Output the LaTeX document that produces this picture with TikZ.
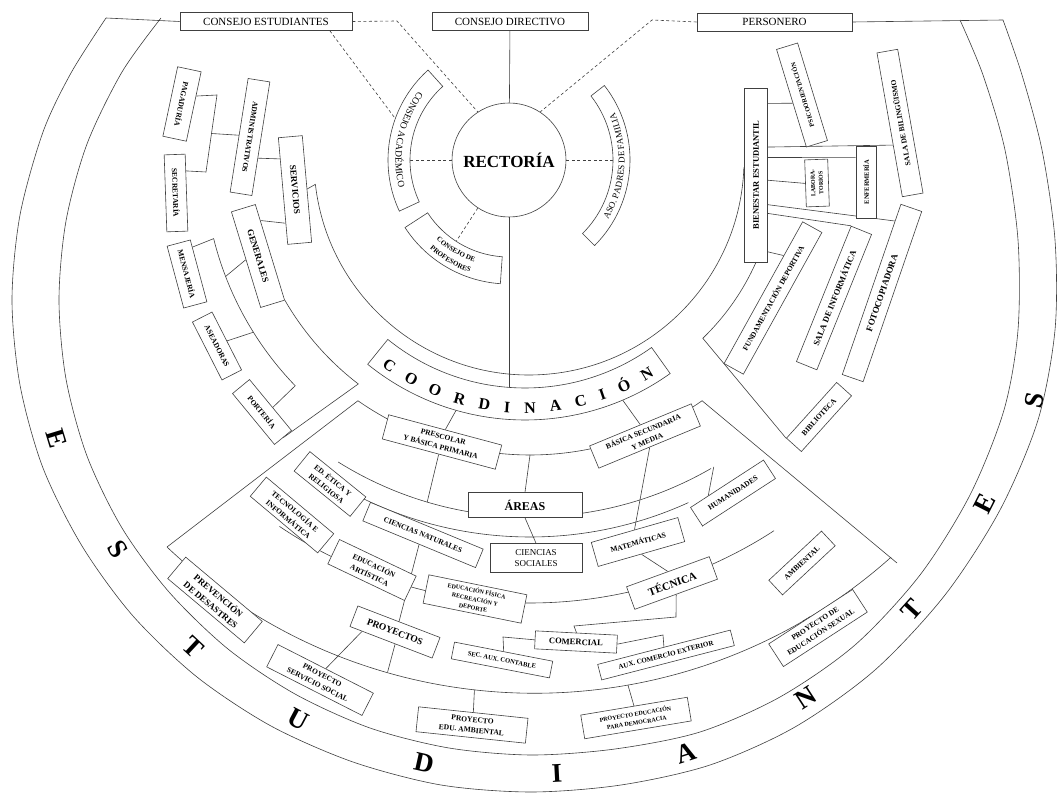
\documentclass[tikz,border=0pt]{standalone}
\usepackage{fontspec}
\setmainfont{Liberation Serif}
\usetikzlibrary{calc,decorations.text}

\pgfdeclarelayer{paper}
\pgfdeclarelayer{lines}
\pgfsetlayers{paper,lines,main}

\tikzset{
  line/.style={draw=black!75, line width=0.6pt},
  dline/.style={line, dash pattern=on 3pt off 2.5pt},
  box/.style={line, fill=white, inner sep=1pt, align=center,
    font=\fontsize{7.5}{10.5}\selectfont\bfseries},
  topbox/.style={line, fill=white, inner sep=1pt, minimum height=18,
    font=\fontsize{11}{11}\selectfont},
  letra/.style={font=\fontsize{27}{27}\selectfont\bfseries},
}

\begin{document}
\begin{tikzpicture}[x=1pt, y=1pt]
\useasboundingbox (0,0) rectangle (1058,-794);
\begin{pgfonlayer}{paper}
  \fill[white] (0,0) rectangle (1058,-794);
\end{pgfonlayer}

% centres
\coordinate (r0) at (509,-160);
\coordinate (o1) at (529,-160);
\coordinate (o2) at (530,-155);
\coordinate (o3) at (535,-158);
\coordinate (c2) at (525,-170);

% estudiantes
\coordinate (bandL) at (106,-18);
\coordinate (bandR) at (1003,-20);
\draw[line] plot[smooth] coordinates {(106,-18) (71,-73) (43,-132) (20,-215) (12,-300)
  (20,-385) (43,-468) (82,-546) (133,-616) (197,-677) (271,-726) (353,-762) (441,-785)
  (531,-792) (621,-785) (710,-765) (795,-727) (875,-670) (945,-595) (1000,-510)
  (1038,-420) (1055,-330) (1055,-240) (1042,-150) (1022,-75) (1003,-20)};
\draw[line] plot[smooth] coordinates {(161,-18) (122,-72) (87,-144) (66,-221) (59,-300)
  (66,-379) (87,-456) (122,-528) (169,-592) (228,-649) (295,-694) (370,-728) (449,-748)
  (531,-755) (615,-749) (700,-732) (780,-697) (855,-645) (920,-575) (970,-495)
  (1004,-410) (1018,-330) (1018,-240) (1005,-150) (983,-75) (960,-20)};
\foreach \l/\x/\y/\r [count=\k] in {E/57/439/287, S/118/549/302, T/193/647/317,
    U/298/719/332, D/424/763/347.5, I/557/773/3, A/686/753/18, N/806/698/33,
    T/912/610/48, E/985/503/63, S/1034/400/78}
  \node[letra, rotate=\r] (l\k) at (\x,-\y) {\l};

% top
\node[topbox, minimum width=172] (cest) at (266,-21.5) {CONSEJO ESTUDIANTES};
\node[topbox, minimum width=156] (cdir) at (510,-21.5) {CONSEJO DIRECTIVO};
\node[topbox, minimum width=155] (pers) at (774.5,-22) {PERSONERO};
\node[circle, line, fill=white, minimum size=114, inner sep=0pt,
  font=\fontsize{17}{17}\selectfont\bfseries] (rect) at (r0) {RECTORÍA};

% arc boxes round rectoria
\draw[line, fill=white] ([shift={(r0)}]132:99) arc[start angle=132, end angle=205, radius=99]
  -- ([shift={(r0)}]205:121) arc[start angle=205, end angle=132, radius=121] -- cycle;
\path[decorate, decoration={text along path, text align=center,
  text={|\fontsize{9.5}{9.5}\selectfont|CONSEJO ACADÉMICO}}]
  ([shift={(r0)}]132:113.5) arc[start angle=132, end angle=205, radius=113.5];
\coordinate (acad) at ([shift={(r0)}]180:99);

\draw[line, fill=white] ([shift={(r0)}]-45:104) arc[start angle=-45, end angle=38, radius=104]
  -- ([shift={(r0)}]38:121) arc[start angle=38, end angle=-45, radius=121] -- cycle;
\path[decorate, decoration={text along path, text align=center,
  text={|\fontsize{9}{9}\selectfont|ASO. PADRES DE FAMILIA}}]
  ([shift={(r0)}]-45:115.5) arc[start angle=-45, end angle=38, radius=115.5];
\coordinate (padres) at ([shift={(r0)}]0:104);

\draw[line, fill=white] ([shift={(r0)}]213:97) arc[start angle=213, end angle=266, radius=97]
  -- ([shift={(r0)}]266:124) arc[start angle=266, end angle=213, radius=124] -- cycle;
\path[decorate, decoration={text along path, text align=center,
  text={|\fontsize{7}{7}\selectfont\bfseries|CONSEJO DE}}]
  ([shift={(r0)}]213:108) arc[start angle=213, end angle=266, radius=108];
\path[decorate, decoration={text along path, text align=center,
  text={|\fontsize{7}{7}\selectfont\bfseries|PROFESORES}}]
  ([shift={(r0)}]213:119) arc[start angle=213, end angle=266, radius=119];
\coordinate (prof) at ([shift={(r0)}]237:97);

% coordinacion
\draw[line, fill=white] ([shift={(c2)}]231:218) arc[start angle=231, end angle=305.5, radius=218]
  -- ([shift={(c2)}]305.5:250) arc[start angle=305.5, end angle=231, radius=250] -- cycle;
\path[decorate, decoration={text along path,
  text align={fit to path, left indent=12pt, right indent=14pt},
  text={|\fontsize{16}{16}\selectfont\bfseries|COORDINACIÓN}}]
  ([shift={(c2)}]231:243) arc[start angle=231, end angle=305.5, radius=243];
\coordinate (coordn) at (509,-389);

% servicios generales
\node[box, minimum width=71, minimum height=24, rotate=258] (pag) at (182,-104) {PAGADURÍA};
\node[box, minimum width=77, minimum height=21, rotate=272] (secr) at (176,-193) {SECRETARÍA};
\node[box, minimum width=115, minimum height=22, rotate=261] (admin) at (250,-137) {ADMINISTRATIVOS};
\node[box, minimum width=107, minimum height=24, rotate=275,
  font=\fontsize{9}{9}\selectfont\bfseries] (serv) at (295,-190) {SERVICIOS};
\node[box, minimum width=100, minimum height=25, rotate=287,
  font=\fontsize{9}{9}\selectfont\bfseries] (gen) at (258,-256) {GENERALES};
\node[box, minimum width=64, minimum height=24, rotate=285] (mens) at (187,-274) {MENSAJERÍA};
\node[box, minimum width=65, minimum height=22, rotate=297] (asea) at (217,-346) {ASEADORAS};
\node[box, minimum width=66, minimum height=22, rotate=309.5] (port) at (262,-412) {PORTERÍA};

% bienestar
\node[box, minimum width=174, minimum height=23, rotate=90,
  font=\fontsize{8.5}{8.5}\selectfont\bfseries] (bien) at (756,-175) {BIENESTAR ESTUDIANTIL};
\node[box, minimum width=102, minimum height=22, rotate=107,
  font=\fontsize{6.5}{7}\selectfont\bfseries] (psico) at (802,-95) {PSICOORIENTACIÓN};
\node[box, minimum width=146, minimum height=21, rotate=100] (bilin) at (900,-123) {SALA DE BILINGÜISMO};
\node[box, minimum width=47, minimum height=23, rotate=92,
  font=\fontsize{6}{8}\selectfont\bfseries] (labo) at (817,-183) {LABORA-\\TORIOS};
\node[box, minimum width=72, minimum height=20, rotate=90,
  font=\fontsize{6.5}{7}\selectfont\bfseries] (enfer) at (866,-182) {ENFERMERÍA};
\node[box, minimum width=162, minimum height=22, rotate=61] (fund) at (773,-298) {FUNDAMENTACIÓN DEPORTIVA};
\node[box, minimum width=146, minimum height=22, rotate=68,
  font=\fontsize{8.5}{8.5}\selectfont\bfseries] (infor) at (834,-298) {SALA DE INFORMÁTICA};
\node[box, minimum width=180, minimum height=22, rotate=71,
  font=\fontsize{9}{9}\selectfont\bfseries] (foto) at (882,-293) {FOTOCOPIADORA};
\node[box, minimum width=75, minimum height=20, rotate=48] (bibl) at (819,-417) {BIBLIOTECA};

% academico
\node[box, minimum width=117, minimum height=25, rotate=-15] (presc) at (442,-442) {PRESCOLAR\\Y BÁSICA PRIMARIA};
\node[box, minimum width=110, minimum height=24, rotate=22.5] (basic) at (645,-436) {BÁSICA SECUNDARIA\\Y MEDIA};
\node[box, minimum width=114, minimum height=25,
  font=\fontsize{12}{12}\selectfont\bfseries] (areas) at (525,-505) {ÁREAS};
\node[box, minimum width=72, minimum height=25, rotate=-39] (etica) at (330,-484) {ED. ÉTICA Y\\RELIGIOSA};
\node[box, minimum width=88, minimum height=25, rotate=-40] (tecno) at (292,-515) {TECNOLOGÍA E\\INFORMÁTICA};
\node[box, minimum width=122, minimum height=20, rotate=-22.5] (cnat) at (423,-535) {CIENCIAS NATURALES};
\node[box, minimum width=92, minimum height=29,
  font=\fontsize{9}{11.5}\selectfont] (csoc) at (536,-558) {CIENCIAS\\SOCIALES};
\node[box, minimum width=90, minimum height=25, rotate=16] (mate) at (638,-542) {MATEMÁTICAS};
\node[box, minimum width=87, minimum height=22, rotate=33] (human) at (733,-493) {HUMANIDADES};
\node[box, minimum width=88, minimum height=24, rotate=20,
  font=\fontsize{11}{11}\selectfont\bfseries] (tecn) at (672,-583) {TÉCNICA};
\node[box, minimum width=72, minimum height=20, rotate=43] (ambi) at (802,-563) {AMBIENTAL};
\node[box, minimum width=85, minimum height=27, rotate=-25.5] (artis) at (372,-570) {EDUCACIÓN\\ARTÍSTICA};
\node[box, minimum width=100, minimum height=29, rotate=-11.5,
  font=\fontsize{6}{8.6}\selectfont\bfseries] (efis) at (475,-599) {EDUCACIÓN FÍSICA\\RECREACIÓN Y\\DEPORTE};
\node[box, minimum width=88, minimum height=22, rotate=-21,
  font=\fontsize{9.5}{9.5}\selectfont\bfseries] (proy) at (395,-632) {PROYECTOS};
\node[box, minimum width=100, minimum height=28, rotate=-40,
  font=\fontsize{9}{12}\selectfont\bfseries] (prev) at (215,-600) {PREVENCIÓN\\DE DESASTRES};
\node[box, minimum width=82, minimum height=18, rotate=-3,
  font=\fontsize{8.5}{8.5}\selectfont\bfseries] (comer) at (576,-642) {COMERCIAL};
\node[box, minimum width=100, minimum height=17, rotate=-11,
  font=\fontsize{6.5}{7}\selectfont\bfseries] (secaux) at (502,-660) {SEC. AUX. CONTABLE};
\node[box, minimum width=137, minimum height=16, rotate=14.5,
  font=\fontsize{7}{7}\selectfont\bfseries] (auxcom) at (666,-655) {AUX. COMERCIO EXTERIOR};
\node[box, minimum width=107, minimum height=25, rotate=-27] (pss) at (320,-680) {PROYECTO\\SERVICIO SOCIAL};
\node[box, minimum width=110, minimum height=25, rotate=-6] (pea) at (472,-725) {PROYECTO\\EDU. AMBIENTAL};
\node[box, minimum width=108, minimum height=24, rotate=9.5,
  font=\fontsize{6}{8.6}\selectfont\bfseries] (ped) at (636,-718) {PROYECTO EDUCACIÓN\\PARA DEMOCRACIA};
\node[box, minimum width=100, minimum height=27, rotate=33] (pes) at (818,-628) {PROYECTO DE\\EDUCACIÓN SEXUAL};

\begin{pgfonlayer}{lines}
% top links
\draw[line] (bandL) -- (cest.west);
\draw[line] (pers.east) -- (bandR);
\draw[line] (cdir) -- (rect);
\draw[line] (rect) -- (coordn);
\draw[dline] (cest.east) -- (397,-21) -- (rect.123);
\draw[dline] ($(cest.south east)!.13!(cest.south west)$) -- ([shift={(r0)}]160:121);
\draw[dline] (pers.west) -- (652,-20) -- (rect.57);
\draw[dline] (rect.west) -- (acad);
\draw[dline] (rect.east) -- (padres);
\draw[dline] (rect.237) -- (prof);

% servicios generales
\coordinate (bp1) at (217,-95);
\coordinate (bp2) at (206,-172);
\draw[line] ($(pag.north west)!.35!(pag.north east)$) -- (bp1) -- (bp2)
  -- ($(secr.north west)!.22!(secr.north east)$);
\draw[line] ($(bp1)!.5!(bp2)$) -- (admin.south);
\draw[line] ($(admin.north west)!.67!(admin.north east)$) -- ($(serv.south west)!.2!(serv.south east)$);
\draw[line] ($(serv.south west)!.8!(serv.south east)$) -- ($(gen.north west)!.17!(gen.north east)$);
\draw[line] (serv.north) -- ([shift={(o1)}]186.5:215) arc[start angle=186.5, end angle=358, radius=215] -- (bien.north);
\draw[line] (gen.north east) arc[start angle=210, end angle=232.5, radius=285] -- (port.east);
\coordinate (bm1) at ([shift={(o1)}]194:325);
\draw[line] ($(mens.north west)!.12!(mens.north east)$) -- (bm1)
  arc[start angle=194, end angle=224, radius=325] -- ($(port.north west)!.55!(port.north east)$);
\draw[line] (gen.south) -- ([shift={(o1)}]201:325);
\draw[line] (asea.north) -- ([shift={(o1)}]212:325);

% bienestar
\draw[line] ($(bien.south west)!.91!(bien.south east)$) -- ($(psico.north west)!.45!(psico.north east)$);
\draw[line] ($(bien.south west)!.66!(bien.south east)$) -- ($(bilin.north west)!.36!(bilin.north east)$);
\draw[line] ($(bien.south west)!.6!(bien.south east)$) -- ($(enfer.north west)!.84!(enfer.north east)$);
\draw[line] ($(bien.south west)!.47!(bien.south east)$) -- (labo.north);
\draw[line] ($(bien.south west)!.33!(bien.south east)$) -- ($(foto.north west)!.9!(foto.north east)$);
\draw[line] ($(bien.south west)!.28!(bien.south east)$) -- (infor.north east);
\draw[line] ($(bien.south west)!.06!(bien.south east)$) -- ($(fund.north west)!.76!(fund.north east)$);
\draw[line] (bien.west) arc[start angle=-24, end angle=-46, radius=243] -- (bibl.north west);

% coordinacion y areas
\draw[line] ([shift={(c2)}]254:250) -- (presc.north);
\draw[line] ([shift={(c2)}]293:250) -- (basic.north);
\coordinate (fa) at (167,-547);
\coordinate (fb) at (897,-563);
\draw[line] (fa) -- ([shift={(o2)}]235:300) arc[start angle=235, end angle=305, radius=300] -- (fb);
\draw[line] (fa) arc[start angle=226.6, end angle=311.8, radius=535];
\draw[line] ([shift={(o2)}]238:362) arc[start angle=238, end angle=300, radius=362];
\draw[line] ([shift={(o2)}]236:382) arc[start angle=236, end angle=294.5, radius=382];
\draw[line] ([shift={(o2)}]236:448) arc[start angle=236, end angle=303, radius=448];
\draw[line] (presc.south) -- ([shift={(o2)}]253.5:362);
\draw[line] (basic.south) -- (mate.north);
\draw[line] ([shift={(o2)}]270:300) -- (areas.north);
\draw[line] (areas.south) -- (csoc.north);
\draw[line] (mate.south) -- (tecn.north);
\draw[line] (human.south west) -- ([shift={(o2)}]300.5:362);
\coordinate (t1) at (676,-617);
\coordinate (t2) at (574,-626);
\draw[line] (tecn.south) -- (t1) -- (t2) -- (comer.north);
\draw[line] (comer.west) -- (503,-637) -- (secaux.north);
\draw[line] (comer.east) -- (663,-635) -- (auxcom.north);
\draw[line] (cnat.south) -- (proy.north);
\draw[line] ($(proy.south west)!.15!(proy.south east)$) -- (pss.north);
\draw[line] ($(proy.south west)!.55!(proy.south east)$) -- ([shift={(o3)}]254:535);
\draw[line] ([shift={(o3)}]263.5:535) -- (pea.north);
\draw[line] ([shift={(o3)}]280:535) -- (ped.north);
\draw[line] ([shift={(o3)}]300:535) -- (pes.north);
\end{pgfonlayer}
\end{tikzpicture}
\end{document}
